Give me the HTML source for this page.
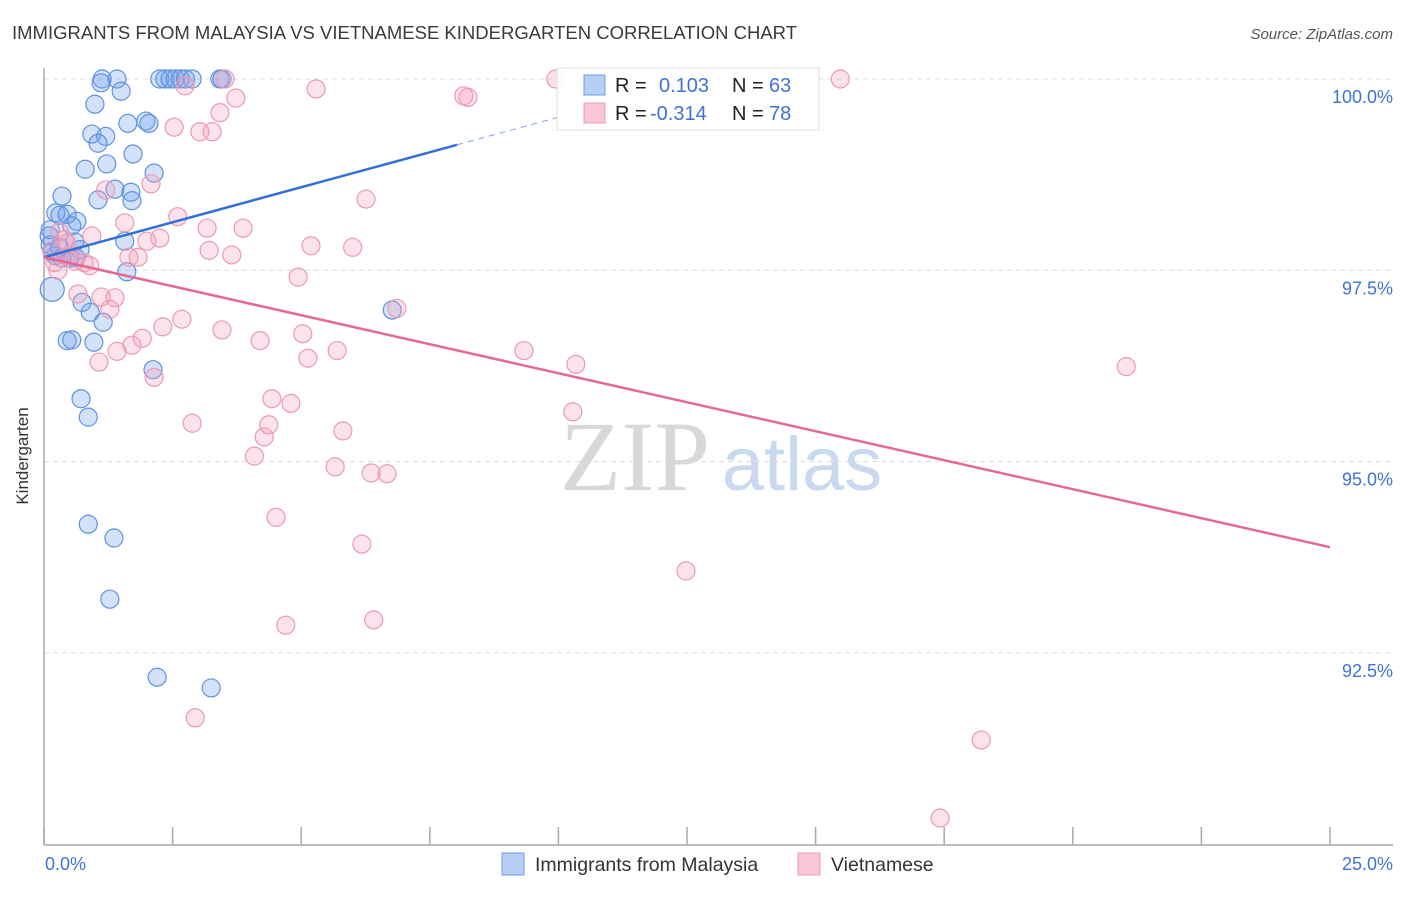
<!DOCTYPE html>
<html><head><meta charset="utf-8"><style>
body{margin:0;background:#fff;font-family:"Liberation Sans",sans-serif;}
</style></head><body>
<svg id="chart" width="1406" height="892" xmlns="http://www.w3.org/2000/svg" font-family="Liberation Sans, sans-serif">
<text x="12" y="39" font-size="18.5" fill="#3a3a3a">IMMIGRANTS FROM MALAYSIA VS VIETNAMESE KINDERGARTEN CORRELATION CHART</text>
<text x="1393" y="39" font-size="15" fill="#555" font-style="italic" text-anchor="end">Source: ZipAtlas.com</text>
<g>
<text x="635" y="490" font-size="100" fill="#d8d8d8" font-family="Liberation Serif, serif" text-anchor="middle">ZIP</text>
<text x="802" y="490" font-size="76" fill="#c9d9ef" text-anchor="middle">atlas</text>
</g>
<g id="grid"></g>
<g id="axes"></g>
<g id="pts"></g>
<g id="trend"></g>
<text x="28" y="456" font-size="17" fill="#333" transform="rotate(-90 28 456)" text-anchor="middle">Kindergarten</text>
<text x="45" y="870" font-size="18" fill="#3f73d3">0.0%</text>
<text x="1393" y="870" font-size="18" fill="#3f73d3" text-anchor="end">25.0%</text>
<g>
<rect x="557" y="68" width="262" height="62" fill="#fff" fill-opacity="0.9" stroke="#ddd"/>
<rect x="584" y="75" width="21" height="20" fill="#b6d0f5" stroke="#6c9de0"/>
<rect x="584" y="103" width="21" height="20" fill="#f9c6d6" stroke="#eb9cb6"/>
<text x="615" y="92" font-size="20" fill="#222">R = </text><text x="659" y="92" font-size="20" fill="#3f73d3">0.103</text>
<text x="732" y="92" font-size="20" fill="#222">N = </text><text x="769" y="92" font-size="20" fill="#3f73d3">63</text>
<text x="615" y="120" font-size="20" fill="#222">R = </text><text x="650" y="120" font-size="20" fill="#3f73d3">-0.314</text>
<text x="732" y="120" font-size="20" fill="#222">N = </text><text x="769" y="120" font-size="20" fill="#3f73d3">78</text>
</g>
<g>
<rect x="502" y="853" width="22" height="22" fill="#b6d0f5" stroke="#6c9de0"/>
<text x="535" y="871" font-size="19.5" fill="#333">Immigrants from Malaysia</text>
<rect x="798" y="853" width="22" height="22" fill="#f9c6d6" stroke="#eb9cb6"/>
<text x="831" y="871" font-size="19.5" fill="#333">Vietnamese</text>
</g>
</svg>
<script>
const yTicks=[100,97.5,95,92.5];
const yTickLabels=["100.0%","97.5%","95.0%","92.5%"];
const xTicks=[0,2.5,5,7.5,10,12.5,15,17.5,20,22.5,25];
const blueX=[1.13,1.42,1.11,1.5,2.25,2.35,2.45,2.55,2.65,2.75,2.88,3.42,3.46,0.99,1.63,1.98,2.04,0.93,1.2,1.05,1.73,1.22,0.8,2.14,0.35,1.38,1.69,1.71,1.05,0.23,0.31,0.45,0.64,0.54,0.12,1.57,0.6,0.12,0.16,0.22,0.35,0.5,0.62,0.7,1.61,0.16,0.74,0.9,1.15,0.45,0.54,0.97,6.77,2.12,0.72,0.86,0.86,1.36,1.28,2.2,3.25,0.1,0.3];
const blueY=[100,100,99.95,99.84,100,100,100,100,100,100,100,100,100,99.67,99.42,99.45,99.42,99.28,99.25,99.16,99.02,98.89,98.82,98.77,98.47,98.56,98.52,98.41,98.42,98.25,98.22,98.23,98.14,98.08,98.03,97.88,97.87,97.83,97.74,97.69,97.66,97.66,97.66,97.77,97.48,97.25,97.08,96.95,96.82,96.58,96.59,96.56,96.98,96.2,95.82,95.58,94.18,94.0,93.2,92.18,92.04,97.95,97.8];
const blueR=[9,9,9,9,9,9,9,9,9,9,9,9,9,9,9,9,9,9,9,9,9,9,9,9,9,9,9,9,9,9,9,9,9,9,9,9,9,9,9,9,9,9,9,9,9,12,9,9,9,9,9,9,9,9,9,9,9,9,9,9,9,9,9];
const pinkX=[9.95,15.48,3.52,2.74,5.29,3.73,8.16,8.24,3.42,2.53,3.03,3.27,2.08,1.2,6.26,2.6,1.57,3.17,3.87,0.93,2.25,2.0,5.19,6.0,3.21,3.65,1.65,1.83,0.78,0.89,0.21,0.27,4.94,0.66,1.11,1.38,1.28,6.86,2.68,2.31,1.91,3.46,5.03,4.2,1.71,1.42,5.7,9.33,5.13,1.07,10.34,2.14,21.04,4.43,4.8,10.28,2.88,4.37,5.81,4.28,4.09,5.66,6.36,6.67,4.51,6.18,12.48,4.7,6.41,2.94,18.22,17.42,0.4,0.5,0.15,0.6,0.3,0.45];
const pinkY=[100,100,100,99.91,99.87,99.75,99.78,99.76,99.56,99.37,99.31,99.31,98.63,98.55,98.43,98.2,98.12,98.05,98.05,97.95,97.92,97.88,97.82,97.8,97.76,97.7,97.67,97.67,97.6,97.56,97.6,97.5,97.41,97.19,97.15,97.14,96.99,97.0,96.86,96.76,96.61,96.72,96.67,96.58,96.52,96.44,96.45,96.45,96.35,96.3,96.27,96.1,96.24,95.82,95.76,95.65,95.5,95.48,95.4,95.32,95.07,94.93,94.85,94.84,94.27,93.92,93.57,92.86,92.93,91.65,91.36,90.34,97.9,97.7,97.75,97.62,98.0,97.85];
const blueTrend=[97.67,0.183];
const pinkTrend=[97.67,-0.1516];
const X0=44,X1=1330,Y100=79,PXY=76.5;
const sx=v=>X0+(v/25)*(X1-X0);
const sy=v=>Y100+(100-v)*PXY;
const NS="http://www.w3.org/2000/svg";
function mk(tag,attrs,parent){const e=document.createElementNS(NS,tag);for(const k in attrs)e.setAttribute(k,attrs[k]);parent.appendChild(e);return e;}
const grid=document.getElementById('grid'),axes=document.getElementById('axes'),pts=document.getElementById('pts'),trend=document.getElementById('trend');
yTicks.forEach((t,i)=>{
 const l=mk('line',{x1:X0,x2:1393,y1:sy(t),y2:sy(t),stroke:'#ddd','stroke-dasharray':'5,4'},grid);
 
 
 const tx=mk('text',{x:1393,y:sy(t)+24,'font-size':18,fill:'#3f73d3','text-anchor':'end'},grid);
 tx.textContent=yTickLabels[i];
 
 
});
const ya=mk('line',{x1:X0,x2:X0,y1:68,y2:845,stroke:'#aaa','stroke-width':1.5},axes);


const xa=mk('line',{x1:X0,x2:1393,y1:845,y2:845,stroke:'#aaa','stroke-width':1.5},axes);


xTicks.forEach(t=>{
 const l=mk('line',{x1:sx(t),x2:sx(t),y1:827,y2:845,stroke:'#aaa','stroke-width':1.5},axes);
 
 
});
blueX.forEach((x,i)=>{
 const c=mk('circle',{cx:sx(x),cy:sy(blueY[i]),r:blueR[i],fill:'rgba(110,160,235,0.3)',stroke:'#5f92dd','stroke-width':1.2},pts);
 
 
});
pinkX.forEach((x,i)=>{
 const c=mk('circle',{cx:sx(x),cy:sy(pinkY[i]),r:9,fill:'rgba(245,160,190,0.3)',stroke:'#eb9ab4','stroke-width':1.2},pts);
 
 
});
const bl=mk('line',{x1:sx(0),y1:sy(blueTrend[0]),x2:sx(8.03),y2:sy(blueTrend[0]+blueTrend[1]*8.03),stroke:'#3270d6','stroke-width':2.5},trend);


const bd=mk('line',{x1:sx(8.03),y1:sy(blueTrend[0]+blueTrend[1]*8.03),x2:sx(12.5),y2:sy(blueTrend[0]+blueTrend[1]*12.5),stroke:'#7ea4e4','stroke-width':1,'stroke-dasharray':'6,5'},trend);


const pl=mk('line',{x1:sx(0),y1:sy(pinkTrend[0]),x2:sx(25),y2:sy(pinkTrend[0]+pinkTrend[1]*25),stroke:'#e66896','stroke-width':2.5},trend);


</script>
</body></html>
